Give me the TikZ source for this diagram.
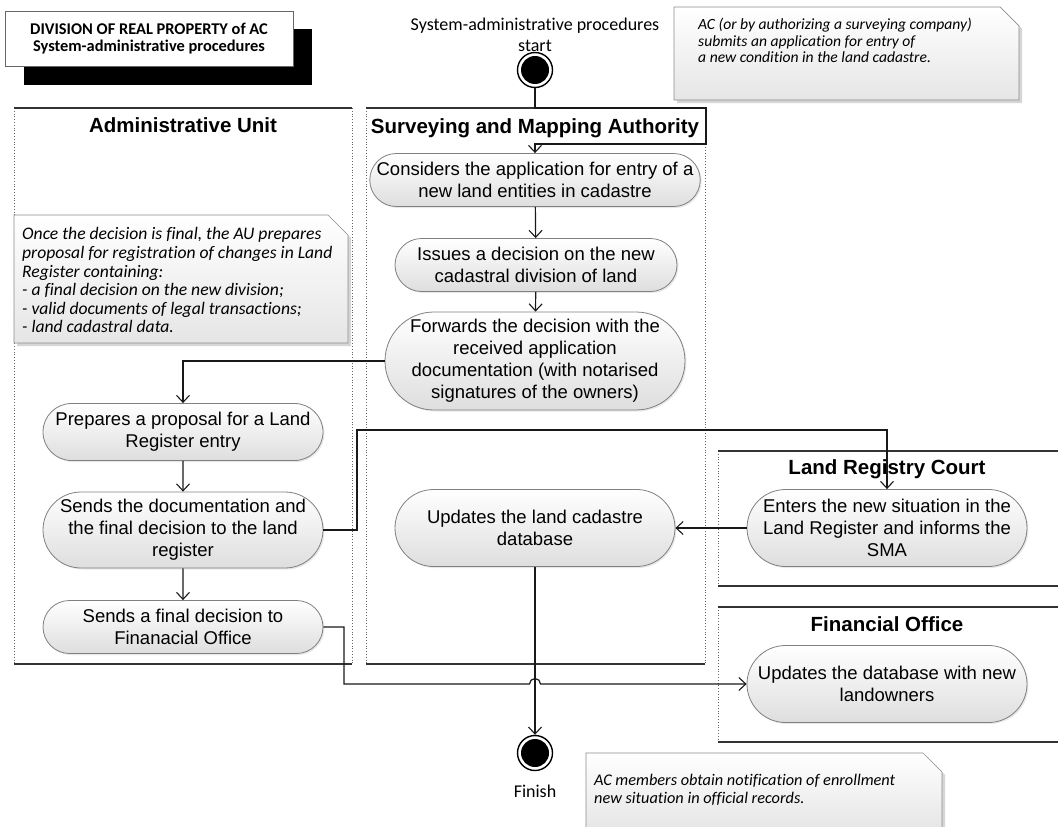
\documentclass[tikz,border=0pt]{standalone}
\usepackage{fontspec}
\setmainfont{Liberation Sans}
\newfontfamily\arialf{Liberation Sans}
\newfontfamily\calf[Ligatures=NoCommon]{Carlito}
\usetikzlibrary{shapes.misc,arrows.meta,shadows}

\tikzset{
  task/.style={rounded rectangle, draw=black!50, line width=0.8pt,
    top color=white, bottom color=black!13,
    drop shadow={shadow xshift=1.5pt, shadow yshift=-1.5pt, opacity=0.18},
    align=center, inner sep=0pt,
    font=\arialf\fontsize{18.5}{22}\selectfont},
  flow/.style={line width=1.2pt, draw=black!90,
    -{Straight Barb[length=7pt,width=13pt,line width=1.1pt]}},
  lanerule/.style={line width=1.2pt, draw=black!80},
  laneside/.style={dotted, line width=0.8pt, draw=black!60},
  lanetitle/.style={font=\arialf\bfseries\fontsize{20.5}{24}\selectfont, inner sep=0pt},
  notebox/.style={draw=black!45, line width=0.7pt, top color=white, bottom color=black!10},
  noteshadow/.style={fill=black!16},
  notetext/.style={anchor=north west, align=left, inner sep=0pt},
  ring/.style={circle, draw=black, line width=1.4pt, fill=white, minimum size=35pt, inner sep=0pt},
  caption/.style={font=\calf\fontsize{18}{21}\selectfont, align=center, inner sep=0pt}
}

\begin{document}
\begin{tikzpicture}[x=1pt,y=-1pt]
\useasboundingbox (0,0) rectangle (1058,827);

% ---- title block with its black offset panel
\fill[black] (24,29) rectangle (312,85);
\node[draw=black!60, line width=0.7pt, fill=white, minimum width=288pt, minimum height=55pt,
      inner sep=0pt, align=center, font=\calf\bfseries\fontsize{16.4}{17.5}\selectfont]
  (title) at (149,38.5) {DIVISION OF REAL PROPERTY of AC\\System-administrative procedures};

% ---- swimlanes
% Administrative Unit
\draw[laneside] (14,108) -- (14,664);
\draw[laneside] (352,108) -- (352,664);
\draw[lanerule] (14,108) -- (352,108);
\draw[lanerule] (14,664) -- (352,664);
\node[lanetitle] (lauhead) at (183,125) {Administrative Unit};
% Surveying and Mapping Authority
\draw[laneside] (366,108) -- (366,664);
\draw[laneside] (705,108) -- (705,664);
\draw[lanerule] (366,108) -- (705,108);
\draw[lanerule] (366,664) -- (705,664);
\node[lanetitle] (smahead) at (535,128) {Surveying and Mapping Authority};
% Land Registry Court
\draw[laneside] (718,451) -- (718,586);
\draw[lanerule] (718,451) -- (1058,451);
\draw[lanerule] (718,586) -- (1058,586);
\node[lanetitle] (lrchead) at (887,469) {Land Registry Court};
% Financial Office
\draw[laneside] (718,607) -- (718,742);
\draw[lanerule] (718,607) -- (1058,607);
\draw[lanerule] (718,742) -- (1058,742);
\node[lanetitle] (fohead) at (887,624) {Financial Office};

% ---- notes
% top note
\fill[noteshadow] (677,10) -- (1003,10) -- (1022,29) -- (1022,103) -- (677,103) -- cycle;
\shade[notebox] (674,7) -- (1000,7) -- (1019,26) -- (1019,100) -- (674,100) -- cycle;
\node[notetext, font=\calf\itshape\fontsize{15.6}{16.6}\selectfont] (notetop) at (698,18)
  {AC (or by authorizing a surveying company)\\submits an application for entry of\\a new condition in the land cadastre.};
% left note
\fill[noteshadow] (17,218) -- (331,218) -- (351,238) -- (351,346) -- (17,346) -- cycle;
\shade[notebox] (14,215) -- (328,215) -- (348,235) -- (348,343) -- (14,343) -- cycle;
\node[notetext, font=\calf\itshape\fontsize{17.6}{18.6}\selectfont] (noteleft) at (22,227.5)
  {Once the decision is final, the AU prepares\\proposal for registration of changes in Land\\Register containing:\\- a final decision on the new division;\\- valid documents of legal transactions;\\- land cadastral data.};
% bottom note
\fill[noteshadow] (589,756) -- (926,756) -- (945,775) -- (945,830) -- (589,830) -- cycle;
\shade[notebox] (586,753) -- (923,753) -- (942,772) -- (942,830) -- (586,830) -- cycle;
\node[notetext, font=\calf\itshape\fontsize{16.3}{18}\selectfont] (notebottom) at (594,774)
  {AC members obtain notification of enrollment\\new situation in official records.};

% ---- initial and final nodes
\node[ring] (start) at (535,70) {};
\fill[black] (start.center) circle[radius=14pt];
\node[caption] (startlbl) at (535,35) {System-administrative procedures\\start};

\node[ring] (finish) at (535,753) {};
\fill[black] (finish.center) circle[radius=14pt];
\node[caption] (finishlbl) at (535,791) {Finish};

% ---- actions
\node[task, minimum width=325pt, minimum height=53pt] (t1) at (535,180)
  {Considers the application for entry of a\\new land entities in cadastre};
\node[task, minimum width=282pt, minimum height=53pt] (t2) at (536,265)
  {Issues a decision on the new\\cadastral division of land};
\node[task, minimum width=300pt, minimum height=98pt] (t3) at (535,361)
  {Forwards the decision with the\\received application\\documentation (with notarised\\signatures of the owners)};
\node[task, minimum width=280pt, minimum height=77pt] (t4) at (535,528)
  {Updates the land cadastre\\database};

\node[task, minimum width=280pt, minimum height=57pt] (a1) at (183,432)
  {Prepares a proposal for a Land\\Register entry};
\node[task, minimum width=280pt, minimum height=76pt] (a2) at (183,530)
  {Sends the documentation and\\the final decision to the land\\register};
\node[task, minimum width=280pt, minimum height=53pt] (a3) at (183,627)
  {Sends a final decision to\\Finanacial Office};

\node[task, minimum width=280pt, minimum height=77pt] (l1) at (887,528)
  {Enters the new situation in the\\Land Register and informs the\\SMA};
\node[task, minimum width=280pt, minimum height=77pt] (f1) at (887,684)
  {Updates the database with new\\landowners};

% ---- control flows
\draw[flow] (start.south) |- (706,108) |- (535,144) -- (t1.north);
\draw[flow] (t1) -- (t2);
\draw[flow] (t2) -- (t3);
\draw[flow] (t3.west) -| (a1.north);
\draw[flow] (a1) -- (a2);
\draw[flow] (a2) -- (a3);
\draw[flow] (a2.east) -| (357,430) -| (l1.north);
\draw[flow] (l1.west) -- (t4.east);
\draw[flow] (t4.south) -- (finish.north);
\draw[flow] (a3.east) -| (344,684) -- (529.5,684)
  arc[start angle=180, end angle=0, radius=5.5pt] -- (f1.west);
\end{tikzpicture}
\end{document}
